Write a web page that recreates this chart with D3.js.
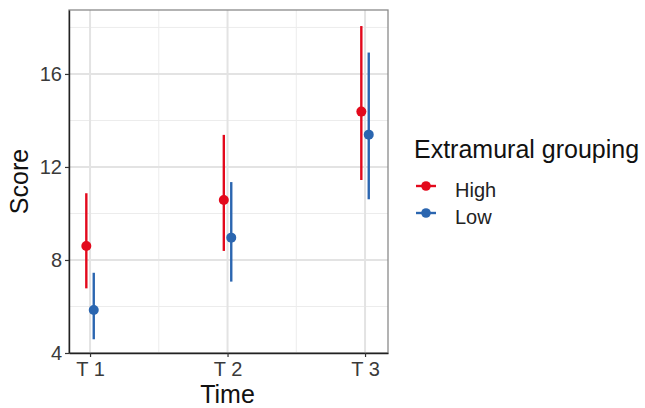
<!DOCTYPE html>
<html>
<head>
<meta charset="utf-8">
<script src="https://cdn.jsdelivr.net/npm/d3@7"></script>
<style>
  body { margin: 0; background: #fff; }
  text { font-family: "Liberation Sans", Arial, sans-serif; }
</style>
</head>
<body>
<div id="chart"></div>
<script>
// Data
var times = ["T 1", "T 2", "T 3"];
var groups = ["High", "Low"];
var highMean = [8.6, 10.58, 14.38];
var highLow = [6.78, 8.39, 11.44];
var highHigh = [10.87, 13.38, 18.06];
var lowMean = [5.85, 8.96, 13.39];
var lowLow = [4.59, 7.07, 10.61];
var lowHigh = [7.45, 11.35, 16.92];
var yTicks = [4, 8, 12, 16];
var yMinor = [6, 10, 14, 18];

var colors = { High: "#E3091C", Low: "#2B66B0" };

var width = 645, height = 408;
var margin = { top: 10, right: 257, bottom: 55, left: 69 };
var pw = width - margin.left - margin.right,
    ph = height - margin.top - margin.bottom;

var svg = d3.select("#chart").append("svg")
    .attr("width", width)
    .attr("height", height);

var g = svg.append("g")
    .attr("transform", "translate(" + margin.left + "," + margin.top + ")");

// x is positional: 1..3 for the time points
var x = d3.scaleLinear().domain([0.847, 3.167]).range([0, pw]);
var y = d3.scaleLinear().domain([4, 18.75]).range([ph, 0]);
var dodge = 0.027;

// grid
g.selectAll(".ymin").data(yMinor).enter().append("line")
    .attr("x1", 0).attr("x2", pw)
    .attr("y1", d => y(d)).attr("y2", d => y(d))
    .attr("stroke", "#ececec").attr("stroke-width", 1);
g.selectAll(".xmin").data([1.5, 2.5]).enter().append("line")
    .attr("y1", 0).attr("y2", ph)
    .attr("x1", d => x(d)).attr("x2", d => x(d))
    .attr("stroke", "#ececec").attr("stroke-width", 1);
g.selectAll(".ymaj").data(yTicks).enter().append("line")
    .attr("x1", 0).attr("x2", pw)
    .attr("y1", d => y(d)).attr("y2", d => y(d))
    .attr("stroke", "#e3e3e3").attr("stroke-width", 2);
g.selectAll(".xmaj").data([1, 2, 3]).enter().append("line")
    .attr("y1", 0).attr("y2", ph)
    .attr("x1", d => x(d)).attr("x2", d => x(d))
    .attr("stroke", "#e3e3e3").attr("stroke-width", 2);

// build rows for marks
var rows = [];
times.forEach(function(t, i) {
  rows.push({ group: "High", pos: i + 1 - dodge, mean: highMean[i], lo: highLow[i], hi: highHigh[i] });
  rows.push({ group: "Low", pos: i + 1 + dodge, mean: lowMean[i], lo: lowLow[i], hi: lowHigh[i] });
});

g.selectAll(".err").data(rows).enter().append("line")
    .attr("x1", d => x(d.pos)).attr("x2", d => x(d.pos))
    .attr("y1", d => y(d.lo)).attr("y2", d => y(d.hi))
    .attr("stroke", d => colors[d.group])
    .attr("stroke-width", 2.4);

g.selectAll(".pt").data(rows).enter().append("circle")
    .attr("cx", d => x(d.pos)).attr("cy", d => y(d.mean))
    .attr("r", 5)
    .attr("fill", d => colors[d.group]);

// border: grey top/right, dark left/bottom
g.append("rect").attr("width", pw).attr("height", ph)
    .attr("fill", "none").attr("stroke", "#8a8a8a").attr("stroke-width", 1.3);

// axes
var yAxis = g.append("g")
    .call(d3.axisLeft(y).tickValues(yTicks).tickSize(4).tickSizeOuter(0).tickFormat(d3.format("d")));
var xAxis = g.append("g")
    .attr("transform", "translate(0," + ph + ")")
    .call(d3.axisBottom(x).tickValues([1, 2, 3]).tickSize(4).tickSizeOuter(0).tickFormat((d, i) => times[i]));

[yAxis, xAxis].forEach(function(a) {
  a.attr("font-size", null).attr("font-family", null);
  a.select(".domain").attr("stroke", "#222").attr("stroke-width", 1.4);
  a.selectAll(".tick line").attr("stroke", "#333").attr("stroke-width", 1.2);
  a.selectAll(".tick text").attr("fill", "#3a3a3a").style("font-size", "20px");
});
yAxis.selectAll(".tick text").attr("x", -7);
xAxis.selectAll(".tick text").attr("y", 9);

// axis titles
svg.append("text")
    .attr("x", margin.left + x(2)).attr("y", 403)
    .attr("text-anchor", "middle")
    .style("font-size", "25px").attr("fill", "#111")
    .text("Time");
svg.append("text")
    .attr("transform", "translate(28," + (margin.top + ph / 2) + ") rotate(-90)")
    .attr("text-anchor", "middle")
    .style("font-size", "25px").attr("fill", "#111")
    .text("Score");

// legend
var leg = svg.append("g").attr("transform", "translate(414,0)");
leg.append("text")
    .attr("x", 0).attr("y", 158)
    .style("font-size", "25px").attr("fill", "#111")
    .text("Extramural grouping");
var items = leg.selectAll(".item").data(groups).enter().append("g")
    .attr("transform", (d, i) => "translate(0," + (186 + i * 27) + ")");
items.append("line")
    .attr("x1", 2).attr("x2", 22)
    .attr("stroke", d => colors[d]).attr("stroke-width", 2.4);
items.append("circle")
    .attr("cx", 12).attr("r", 4.8)
    .attr("fill", d => colors[d]);
items.append("text")
    .attr("x", 41).attr("y", 11)
    .style("font-size", "20px").attr("fill", "#222")
    .text(d => d);
</script>
</body>
</html>
